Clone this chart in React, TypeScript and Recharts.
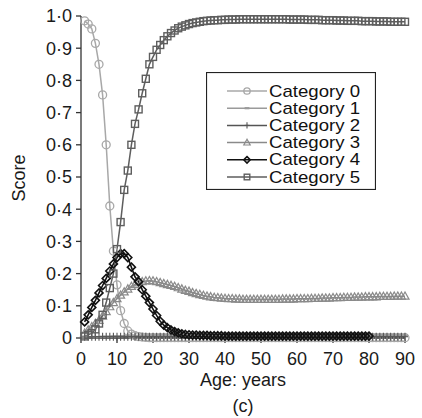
import React from 'react';
import { LineChart, Line, XAxis, YAxis, Legend, Label } from 'recharts';

const ages = [
  1, 2, 3, 4, 5, 6, 7, 8, 9, 10, 11, 12, 13, 14, 15, 16, 17, 18, 19, 20,
  21, 22, 23, 24, 25, 26, 27, 28, 29, 30, 31, 32, 33, 34, 35, 36, 37, 38, 39, 40,
  41, 42, 43, 44, 45, 46, 47, 48, 49, 50, 51, 52, 53, 54, 55, 56, 57, 58, 59, 60,
  61, 62, 63, 64, 65, 66, 67, 68, 69, 70, 71, 72, 73, 74, 75, 76, 77, 78, 79, 80,
  81, 82, 83, 84, 85, 86, 87, 88, 89, 90,
];

const category0 = [
  0.985, 0.975, 0.96, 0.915, 0.85, 0.755, 0.6, 0.41, 0.27, 0.165,
  0.085, 0.045, 0.022, 0.012, 0.007, 0.004, 0.003, 0.002, 0.001, 0.001,
  0.001, 0.001, 0.001, 0.001, 0.001, 0.001, 0.001, 0.001, 0.001, 0.001,
  0.001, 0.001, 0.001, 0.001, 0.001, 0.001, 0.001, 0.001, 0.001, 0.001,
  0.001, 0.001, 0.001, 0.001, 0.001, 0.001, 0.001, 0.001, 0.001, 0.001,
  0.001, 0.001, 0.001, 0.001, 0.001, 0.001, 0.001, 0.001, 0.001, 0.001,
  0.001, 0.001, 0.001, 0.001, 0.001, 0.001, 0.001, 0.001, 0.001, 0.001,
  0.001, 0.001, 0.001, 0.001, 0.001, 0.001, 0.001, 0.001, 0.001, 0.001,
  0.001, 0.001, 0.001, 0.001, 0.001, 0.001, 0.001, 0.001, 0.001, 0.001,
];

const category1 = [
  0.002, 0.002, 0.003, 0.003, 0.003, 0.004, 0.004, 0.004, 0.005, 0.005,
  0.005, 0.006, 0.006, 0.006, 0.006, 0.007, 0.007, 0.007, 0.007, 0.007,
  0.008, 0.008, 0.008, 0.008, 0.008, 0.008, 0.008, 0.008, 0.008, 0.008,
  0.008, 0.008, 0.008, 0.008, 0.008, 0.008, 0.008, 0.008, 0.008, 0.008,
  0.008, 0.008, 0.008, 0.008, 0.008, 0.008, 0.008, 0.008, 0.008, 0.008,
  0.008, 0.008, 0.008, 0.008, 0.008, 0.008, 0.008, 0.008, 0.008, 0.008,
  0.008, 0.008, 0.008, 0.008, 0.008, 0.008, 0.008, 0.008, 0.008, 0.008,
  0.008, 0.008, 0.008, 0.008, 0.008, 0.008, 0.008, 0.008, 0.008, 0.008,
  0.008, 0.008, 0.008, 0.008, 0.008, 0.008, 0.008, 0.008, 0.008, 0.008,
];

const category2 = [
  0.004, 0.004, 0.004, 0.004, 0.004, 0.004, 0.004, 0.004, 0.004, 0.004,
  0.004, 0.004, 0.004, 0.004, 0.004, 0.004, 0.004, 0.004, 0.004, 0.004,
  0.004, 0.004, 0.004, 0.004, 0.004, 0.004, 0.004, 0.004, 0.004, 0.004,
  0.004, 0.004, 0.004, 0.004, 0.004, 0.004, 0.004, 0.004, 0.004, 0.004,
  0.004, 0.004, 0.004, 0.004, 0.004, 0.004, 0.004, 0.004, 0.004, 0.004,
  0.004, 0.004, 0.004, 0.004, 0.004, 0.004, 0.004, 0.004, 0.004, 0.004,
  0.004, 0.004, 0.004, 0.004, 0.004, 0.004, 0.004, 0.004, 0.004, 0.004,
  0.004, 0.004, 0.004, 0.004, 0.004, 0.004, 0.004, 0.004, 0.004, 0.004,
  0.004, 0.004, 0.004, 0.004, 0.004, 0.004, 0.004, 0.004, 0.004, 0.004,
];

const category3 = [
  0.015, 0.025, 0.035, 0.045, 0.055, 0.068, 0.082, 0.097, 0.11, 0.122,
  0.133, 0.143, 0.152, 0.16, 0.166, 0.171, 0.175, 0.177, 0.178, 0.177,
  0.175, 0.172, 0.169, 0.166, 0.163, 0.16, 0.156, 0.152, 0.148, 0.145,
  0.141, 0.138, 0.135, 0.132, 0.13, 0.128, 0.126, 0.125, 0.124, 0.123,
  0.122, 0.122, 0.121, 0.121, 0.12, 0.12, 0.12, 0.12, 0.12, 0.12,
  0.12, 0.12, 0.12, 0.12, 0.12, 0.121, 0.121, 0.121, 0.121, 0.122,
  0.122, 0.122, 0.122, 0.123, 0.123, 0.123, 0.124, 0.124, 0.124, 0.125,
  0.125, 0.125, 0.126, 0.126, 0.126, 0.127, 0.127, 0.127, 0.128, 0.128,
  0.128, 0.128, 0.129, 0.129, 0.129, 0.129, 0.13, 0.13, 0.13, 0.13,
];

const category4: (number | null)[] = [
  0.05, 0.072, 0.095, 0.117, 0.14, 0.163, 0.185, 0.208, 0.23, 0.25,
  0.262, 0.262, 0.25, 0.22, 0.19, 0.175, 0.15, 0.13, 0.11, 0.09,
  0.07, 0.052, 0.04, 0.032, 0.025, 0.02, 0.016, 0.013, 0.011, 0.01,
  0.009, 0.009, 0.008, 0.008, 0.008, 0.007, 0.007, 0.007, 0.007, 0.006,
  0.006, 0.006, 0.006, 0.006, 0.006, 0.006, 0.006, 0.006, 0.006, 0.006,
  0.006, 0.006, 0.006, 0.006, 0.006, 0.006, 0.006, 0.006, 0.006, 0.006,
  0.006, 0.006, 0.006, 0.006, 0.006, 0.006, 0.006, 0.006, 0.006, 0.006,
  0.006, 0.006, 0.006, 0.006, 0.006, 0.006, 0.006, 0.006, 0.006, 0.006,
  null, null, null, null, null, null, null, null, null, null,
];

const category5 = [
  0.005, 0.01, 0.015, 0.027, 0.045, 0.072, 0.11, 0.155, 0.2, 0.276,
  0.36, 0.46, 0.52, 0.6, 0.665, 0.71, 0.76, 0.805, 0.85, 0.873,
  0.895, 0.91, 0.925, 0.937, 0.947, 0.955, 0.962, 0.967, 0.971, 0.975,
  0.978, 0.98, 0.982, 0.984, 0.985, 0.986, 0.987, 0.987, 0.988, 0.988,
  0.989, 0.989, 0.989, 0.99, 0.99, 0.99, 0.99, 0.99, 0.99, 0.99,
  0.99, 0.99, 0.99, 0.99, 0.99, 0.99, 0.99, 0.989, 0.989, 0.989,
  0.989, 0.989, 0.988, 0.988, 0.988, 0.988, 0.987, 0.987, 0.987, 0.987,
  0.986, 0.986, 0.986, 0.985, 0.985, 0.985, 0.985, 0.984, 0.984, 0.984,
  0.984, 0.983, 0.983, 0.983, 0.983, 0.982, 0.982, 0.982, 0.982, 0.982,
];

const xTicks = [0, 10, 20, 30, 40, 50, 60, 70, 80, 90];
const yTicks = [0, 0.1, 0.2, 0.3, 0.4, 0.5, 0.6, 0.7, 0.8, 0.9, 1.0];

type Shape = 'circle' | 'dash' | 'plus' | 'triangle' | 'diamond' | 'square';

const seriesDefs: { key: string; name: string; color: string; shape: Shape; values: (number | null)[]; width: number }[] = [
  { key: 'c0', name: 'Category 0', color: '#a8a8a8', shape: 'circle', values: category0, width: 1.5 },
  { key: 'c1', name: 'Category 1', color: '#9a9a9a', shape: 'dash', values: category1, width: 1.5 },
  { key: 'c2', name: 'Category 2', color: '#555555', shape: 'plus', values: category2, width: 1.5 },
  { key: 'c3', name: 'Category 3', color: '#8a8a8a', shape: 'triangle', values: category3, width: 1.5 },
  { key: 'c4', name: 'Category 4', color: '#111111', shape: 'diamond', values: category4, width: 1.6 },
  { key: 'c5', name: 'Category 5', color: '#5e5e5e', shape: 'square', values: category5, width: 1.5 },
];

const rows = ages.map((age, i) => {
  const r: Record<string, number | null> = { age };
  seriesDefs.forEach((s) => {
    r[s.key] = s.values[i];
  });
  return r;
});

function Marker({ shape, color, cx, cy, s = 1 }: { shape: Shape; color: string; cx: number; cy: number; s?: number }) {
  switch (shape) {
    case 'circle':
      return <circle cx={cx} cy={cy} r={4 * s} fill="none" stroke={color} strokeWidth={1.3} />;
    case 'dash':
      return <line x1={cx - 3 * s} x2={cx + 3 * s} y1={cy} y2={cy} stroke={color} strokeWidth={2.2} />;
    case 'plus':
      return (
        <g stroke={color} strokeWidth={1.1}>
          <line x1={cx} x2={cx} y1={cy - 4 * s} y2={cy + 4 * s} />
          <line x1={cx - 3 * s} x2={cx + 3 * s} y1={cy} y2={cy} />
        </g>
      );
    case 'triangle':
      return (
        <polygon
          points={`${cx},${cy - 4.2 * s} ${cx - 4 * s},${cy + 3 * s} ${cx + 4 * s},${cy + 3 * s}`}
          fill="none"
          stroke={color}
          strokeWidth={1.2}
        />
      );
    case 'diamond':
      return (
        <polygon
          points={`${cx},${cy - 4 * s} ${cx + 4 * s},${cy} ${cx},${cy + 4 * s} ${cx - 4 * s},${cy}`}
          fill="none"
          stroke={color}
          strokeWidth={1.6}
        />
      );
    case 'square':
    default:
      return (
        <rect x={cx - 3.5 * s} y={cy - 3.5 * s} width={7 * s} height={7 * s} fill="none" stroke={color} strokeWidth={1.4} />
      );
  }
}

const makeDot = (shape: Shape, color: string) => (props: any) => {
  const { cx, cy, index } = props;
  if (cx == null || cy == null || Number.isNaN(cx) || Number.isNaN(cy) || props.value == null) {
    return <g key={`e-${index}`} />;
  }
  return (
    <g key={`d-${index}`}>
      <Marker shape={shape} color={color} cx={cx} cy={cy} />
    </g>
  );
};

const FONT = "'Liberation Sans', Arial, sans-serif";
const FS = 18;
const LEGEND_FS = 17;

function LegendBox() {
  return (
    <svg width={170} height={118} style={{ display: 'block' }}>
      <rect x={0.5} y={0.5} width={169} height={117} fill="#ffffff" stroke="#222222" strokeWidth={1.2} />
      {seriesDefs.map((s, i) => {
        const y = 19 + i * 17.2;
        return (
          <g key={s.key}>
            <line x1={21} x2={61} y1={y} y2={y} stroke={s.color} strokeWidth={1.5} />
            <Marker shape={s.shape} color={s.color} cx={41} cy={y} s={0.8} />
            <text x={63} y={y} dominantBaseline="central" fontSize={LEGEND_FS} fill="#111111" fontFamily={FONT} textLength={91} lengthAdjust="spacingAndGlyphs">
              {s.name}
            </text>
          </g>
        );
      })}
    </svg>
  );
}

const fmtY = (v: number) => (v === 0 ? '0' : v.toFixed(1).replace('.', '·'));

const axisColor = '#333333';
const tickStyle = { fill: '#1a1a1a', fontSize: FS, fontFamily: FONT };

export default function App() {
  return (
    <div style={{ position: 'absolute', left: 0, top: 0, width: 422, height: 418, background: '#ffffff', fontFamily: FONT }}>
      <LineChart width={422} height={418} data={rows} margin={{ top: 16, right: 17, left: 0, bottom: 0 }}>
        <XAxis
          dataKey="age"
          type="number"
          domain={[0, 90]}
          ticks={xTicks}
          interval={0}
          height={80}
          tickSize={5}
          tickMargin={9}
          tick={tickStyle}
          axisLine={{ stroke: axisColor, strokeWidth: 1.3 }}
          tickLine={{ stroke: axisColor, strokeWidth: 1.3 }}
        >
          <Label value="Age: years" position="insideBottom" offset={32} style={{ fill: '#1a1a1a', fontSize: FS }} />
          <Label value="(c)" position="insideBottom" offset={6} style={{ fill: '#1a1a1a', fontSize: FS }} />
        </XAxis>
        <YAxis
          type="number"
          domain={[0, 1]}
          ticks={yTicks}
          interval={0}
          width={81}
          tickSize={5}
          tickMargin={4}
          tick={tickStyle}
          tickFormatter={fmtY}
          axisLine={{ stroke: axisColor, strokeWidth: 1.3 }}
          tickLine={{ stroke: axisColor, strokeWidth: 1.3 }}
        >
          <Label
            content={() => (
              <text
                x={19}
                y={178}
                transform="rotate(-90, 19, 178)"
                textAnchor="middle"
                dominantBaseline="central"
                fontSize={FS}
                fill="#1a1a1a"
                fontFamily={FONT}
              >
                Score
              </text>
            )}
          />
        </YAxis>
        <Legend
          layout="vertical"
          align="center"
          verticalAlign="middle"
          wrapperStyle={{ left: 206, top: 72, width: 170, height: 118 }}
          content={() => <LegendBox />}
        />
        {seriesDefs.map((s) => (
          <Line
            key={s.key}
            type="linear"
            dataKey={s.key}
            name={s.name}
            stroke={s.color}
            strokeWidth={s.width}
            dot={makeDot(s.shape, s.color)}
            activeDot={false}
            isAnimationActive={false}
            connectNulls={false}
          />
        ))}
      </LineChart>
    </div>
  );
}
